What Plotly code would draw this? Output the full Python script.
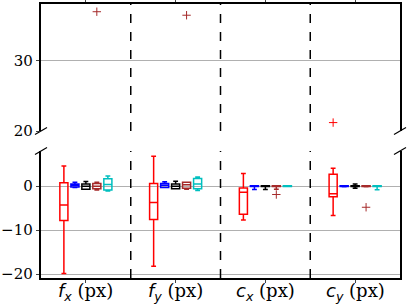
import plotly.graph_objects as go

def lab(var, sub):
    return ('<span style="font-family:\'DejaVu Sans\'"><i>' + var + '<sub>' + sub +
            '</sub></i></span> (px)')

groups = [lab("f", "x"), lab("f", "y"), lab("c", "x"), lab("c", "y")]
group_pos = [1, 2, 3, 4]

series_names = ["red", "blue", "black", "brown", "cyan"]
series_colors = ["#ff0000", "#0000ff", "#000000", "#a52a2a", "#00bfbf"]
series_offsets = [-0.245, -0.122, 0.0, 0.122, 0.245]

# per series: values for [f_x, f_y, c_x, c_y]
lower = [[-19.9, -18.2, -7.7, -6.7],
         [-0.3, -0.3, -0.75, -0.15],
         [-0.7, -0.6, -0.75, -0.5],
         [-0.9, -0.7, -0.7, -0.15],
         [-1.1, -1.0, -0.1, -0.8]]
q1 = [[-7.8, -7.6, -6.4, -2.4],
      [-0.2, -0.3, -0.1, -0.1],
      [-0.7, -0.6, -0.1, -0.1],
      [-0.6, -0.5, -0.1, -0.1],
      [-0.9, -0.6, -0.1, -0.1]]
median = [[-4.3, -3.7, -1.4, -1.7],
          [0.2, 0.2, 0.0, 0.0],
          [0.0, 0.0, 0.0, 0.0],
          [0.0, 0.3, 0.0, 0.0],
          [0.4, 0.5, 0.0, 0.0]]
q3 = [[0.8, 0.6, -0.4, 2.7],
      [0.5, 0.6, 0.1, 0.1],
      [0.5, 0.5, 0.1, 0.1],
      [0.6, 0.9, 0.1, 0.1],
      [1.7, 1.75, 0.1, 0.1]]
upper = [[4.6, 6.8, 2.9, 4.1],
         [0.9, 1.0, 0.1, 0.1],
         [1.05, 1.1, 0.1, 0.5],
         [0.9, 0.9, 0.1, 0.1],
         [2.3, 2.1, 0.1, 0.1]]

# outliers: (series index, group index, value)
out_series = [3, 3, 0, 3, 3]
out_group = [0, 1, 3, 2, 3]
out_value = [37.0, 36.5, 21.2, -1.9, -4.8]

top_range = [20, 38.1]
bottom_range = [-20.9, 8.0]
top_ticks = [20, 30]
bottom_ticks = [-20, -10, 0]

fig = go.Figure()
for i in range(5):
    fig.add_trace(go.Box(
        x=[g + series_offsets[i] for g in group_pos],
        q1=q1[i], median=median[i], q3=q3[i],
        lowerfence=lower[i], upperfence=upper[i],
        boxpoints=False, width=0.09, whiskerwidth=0.6,
        line=dict(color=series_colors[i], width=1.5),
        fillcolor="rgba(0,0,0,0)", showlegend=False,
        xaxis="x", yaxis="y", name=series_names[i]))

for s, g, v in zip(out_series, out_group, out_value):
    on_top = v >= top_range[0]
    fig.add_trace(go.Scatter(
        x=[group_pos[g] + series_offsets[s]], y=[v], mode="markers",
        marker=dict(symbol="cross-thin", size=6,
                    line=dict(color=series_colors[s], width=1)),
        showlegend=False,
        xaxis="x2" if on_top else "x", yaxis="y2" if on_top else "y"))

H, W = 274.0, 359.0
bot_dom = [0, 127 / H]
top_dom = [147 / H, 1]

shapes = []
for xd in [1.5, 2.5, 3.5]:
    for xr, yr in [("x", "y domain"), ("x2", "y2 domain")]:
        shapes.append(dict(type="line", xref=xr, yref=yr, x0=xd, x1=xd, y0=0, y1=1,
                           line=dict(color="black", width=1.5, dash="dash")))

dx, dy = 6 / W, 3.5 / H
for yc in [top_dom[0], bot_dom[1]]:
    for xc in [0, 1]:
        shapes.append(dict(type="line", xref="paper", yref="paper",
                           x0=xc - dx, x1=xc + dx, y0=yc - dy, y1=yc + dy,
                           line=dict(color="black", width=1.2)))

annotations = [dict(x=gp, xref="x", y=0, yref="paper", yanchor="top", yshift=0,
                    text=gl, showarrow=False,
                    font=dict(family="DejaVu Serif", size=18, color="black"))
               for gp, gl in zip(group_pos, groups)]

axis_font = dict(family="DejaVu Serif", size=15, color="black")
fig.update_layout(
    width=407, height=304,
    margin=dict(l=41, r=7, t=4, b=26),
    paper_bgcolor="white", plot_bgcolor="white",
    font=axis_font,
    shapes=shapes, annotations=annotations,
    xaxis=dict(domain=[0, 1], range=[0.5, 4.5], anchor="y", automargin=False,
               tickvals=group_pos, showticklabels=False, ticks="outside", ticklen=3.5,
               showline=True, linecolor="black", linewidth=1.5, mirror=False,
               showgrid=False, zeroline=False),
    xaxis2=dict(domain=[0, 1], range=[0.5, 4.5], anchor="y2", side="top", automargin=False,
                tickvals=group_pos, showticklabels=False, ticks="outside", ticklen=3.5,
                showline=True, linecolor="black", linewidth=1.5,
                showgrid=False, zeroline=False, matches="x"),
    yaxis=dict(domain=bot_dom, range=bottom_range, anchor="x", automargin=False,
               tickvals=bottom_ticks, ticktext=["\u221220", "\u221210", "0"],
               ticks="outside", ticklen=3.5,
               showline=True, linecolor="black", linewidth=1.5, mirror=True,
               showgrid=True, gridcolor="#b0b0b0", gridwidth=1, zeroline=False,
               tickfont=axis_font),
    yaxis2=dict(domain=top_dom, range=top_range, anchor="x2", automargin=False,
                tickvals=top_ticks, ticks="outside", ticklen=3.5,
                showline=True, linecolor="black", linewidth=1.5, mirror=True,
                showgrid=True, gridcolor="#b0b0b0", gridwidth=1, zeroline=False,
                tickfont=axis_font),
)

fig.write_html("out.html", config={"displayModeBar": False},
               post_script="document.body.style.margin='0';")
